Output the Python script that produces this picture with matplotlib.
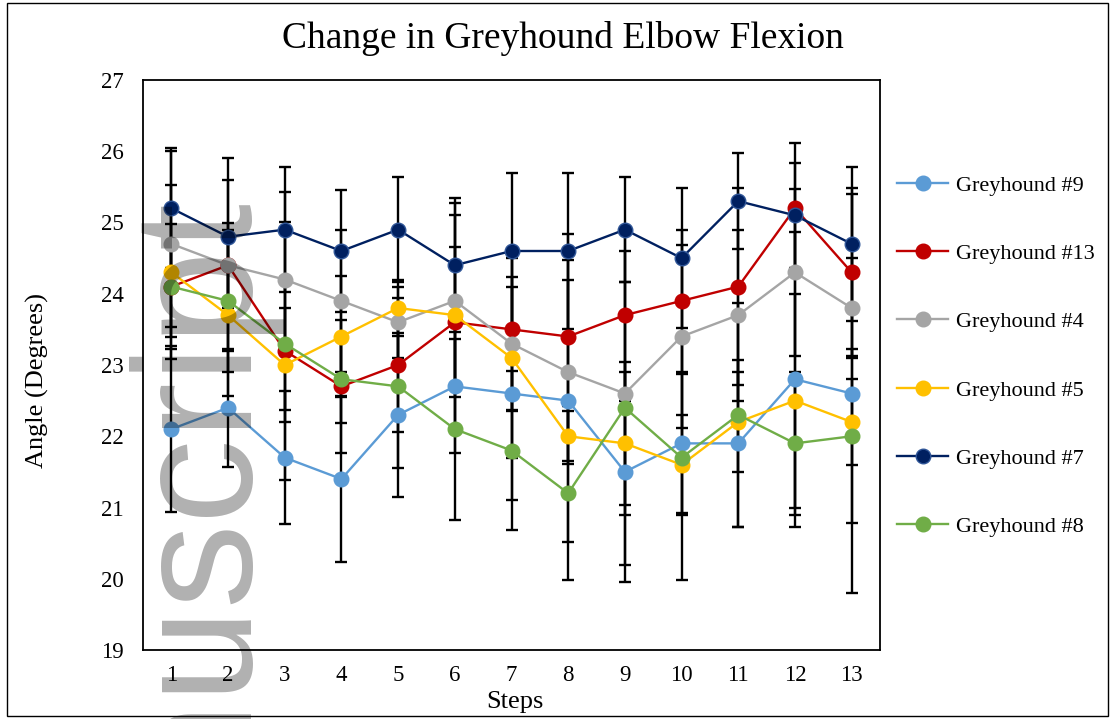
import matplotlib
matplotlib.use("Agg")
import matplotlib.pyplot as plt
from matplotlib.patches import Rectangle

steps = list(range(1, 14))
names = ["Greyhound #9", "Greyhound #13", "Greyhound #4",
         "Greyhound #5", "Greyhound #7", "Greyhound #8"]
colors = ["#5B9BD5", "#C00000", "#A5A5A5", "#FFC000", "#002060", "#70AD47"]

g9 = [22.1, 22.4, 21.7, 21.4, 22.3, 22.7, 22.6, 22.5, 21.5, 21.9, 21.9, 22.8, 22.6]
g13 = [24.1, 24.4, 23.2, 22.7, 23.0, 23.6, 23.5, 23.4, 23.7, 23.9, 24.1, 25.2, 24.3]
g4 = [24.7, 24.4, 24.2, 23.9, 23.6, 23.9, 23.3, 22.9, 22.6, 23.4, 23.7, 24.3, 23.8]
g5 = [24.3, 23.7, 23.0, 23.4, 23.8, 23.7, 23.1, 22.0, 21.9, 21.6, 22.2, 22.5, 22.2]
g7 = [25.2, 24.8, 24.9, 24.6, 24.9, 24.4, 24.6, 24.6, 24.9, 24.5, 25.3, 25.1, 24.7]
g8 = [24.1, 23.9, 23.3, 22.8, 22.7, 22.1, 21.8, 21.2, 22.4, 21.7, 22.3, 21.9, 22.0]

e9 = [1.17, 0.83, 0.93, 1.16, 1.15, 0.94, 1.49, 1.98, 1.54, 0.98, 1.17, 2.07, 2.80]
e13 = [0.88, 1.20, 1.81, 0.93, 0.94, 1.05, 1.13, 1.44, 1.20, 1.00, 1.38, 0.92, 1.18]
e4 = [1.31, 0.60, 1.23, 1.00, 0.50, 1.21, 0.94, 1.29, 1.57, 1.28, 1.20, 1.17, 0.70]
e5 = [1.22, 1.14, 0.80, 0.85, 0.40, 1.57, 1.40, 0.35, 1.00, 0.70, 0.70, 1.50, 0.60]
e7 = [0.84, 1.10, 0.88, 0.85, 0.74, 0.94, 1.09, 1.09, 0.74, 0.98, 0.67, 0.74, 1.08]
e8 = [0.56, 1.00, 0.93, 0.62, 1.14, 1.27, 1.12, 1.22, 2.20, 1.72, 1.57, 1.00, 1.22]

values = [g9, g13, g4, g5, g7, g8]
errors = [e9, e13, e4, e5, e7, e8]

W, H = 1111, 719
fig = plt.figure(figsize=(W / 100, H / 100), dpi=100)
serif = ["Liberation Serif", "DejaVu Serif"]

L, R, T, B = 143, 880, 80, 650
ax = fig.add_axes([L / W, (H - B) / H, (R - L) / W, (B - T) / H])

handles = []
for vals, errs, col, nm in zip(values, errors, colors, names):
    ax.errorbar(steps, vals, yerr=errs, fmt="none", ecolor="black",
                elinewidth=1.7, capsize=4.5, capthick=1.7, zorder=2)
for vals, col, nm in zip(values, colors, names):
    edge = "#2F5597" if col == "#002060" else col
    h, = ax.plot(steps, vals, color=col, lw=1.7, marker="o", ms=10.5,
                 markerfacecolor=col, markeredgecolor=edge, markeredgewidth=1.0,
                 label=nm, zorder=3)
    handles.append(h)

ax.set_xlim(0.5, 13.5)
ax.set_ylim(19, 27)
ax.set_xticks(steps)
ax.set_yticks(range(19, 28))
for sp in ax.spines.values():
    sp.set_linewidth(1.3)
    sp.set_color("black")
ax.tick_params(length=0, labelsize=16.5)
ax.tick_params(axis="y", pad=14)
ax.tick_params(axis="x", pad=11)
for lab in ax.get_xticklabels() + ax.get_yticklabels():
    lab.set_fontfamily(serif)

fig.text(563 / W, 1 - 38 / H, "Change in Greyhound Elbow Flexion",
         ha="center", va="center", fontsize=27, family=serif)
fig.text(37 / W, 1 - 381 / H, "Angle (Degrees)", rotation=90,
         ha="center", va="center", fontsize=19, family=serif)
fig.text(515 / W, 1 - 702 / H, "Steps", ha="center", va="center",
         fontsize=19, family=serif)

fig.legend(handles=handles, loc="upper left",
           bbox_to_anchor=(897 / W, 1 - 175 / H), frameon=False,
           prop={"family": serif, "size": 16}, labelspacing=2.15,
           handlelength=2.3, handletextpad=0.35, borderaxespad=0,
           borderpad=0)

# watermark
fig.text(238 / W, 1 - 189 / H, "Manuscript", rotation=90,
         rotation_mode="anchor", ha="right", va="baseline",
         fontsize=122, family=["Liberation Sans", "DejaVu Sans"],
         color="black", alpha=0.31, zorder=10)

fig.patches.append(Rectangle((7 / W, 3 / H), (1108 - 7) / W, (716 - 3) / H,
                             transform=fig.transFigure, fill=False,
                             edgecolor="black", lw=1.0, zorder=0))

fig.savefig("out.png", dpi=100)
